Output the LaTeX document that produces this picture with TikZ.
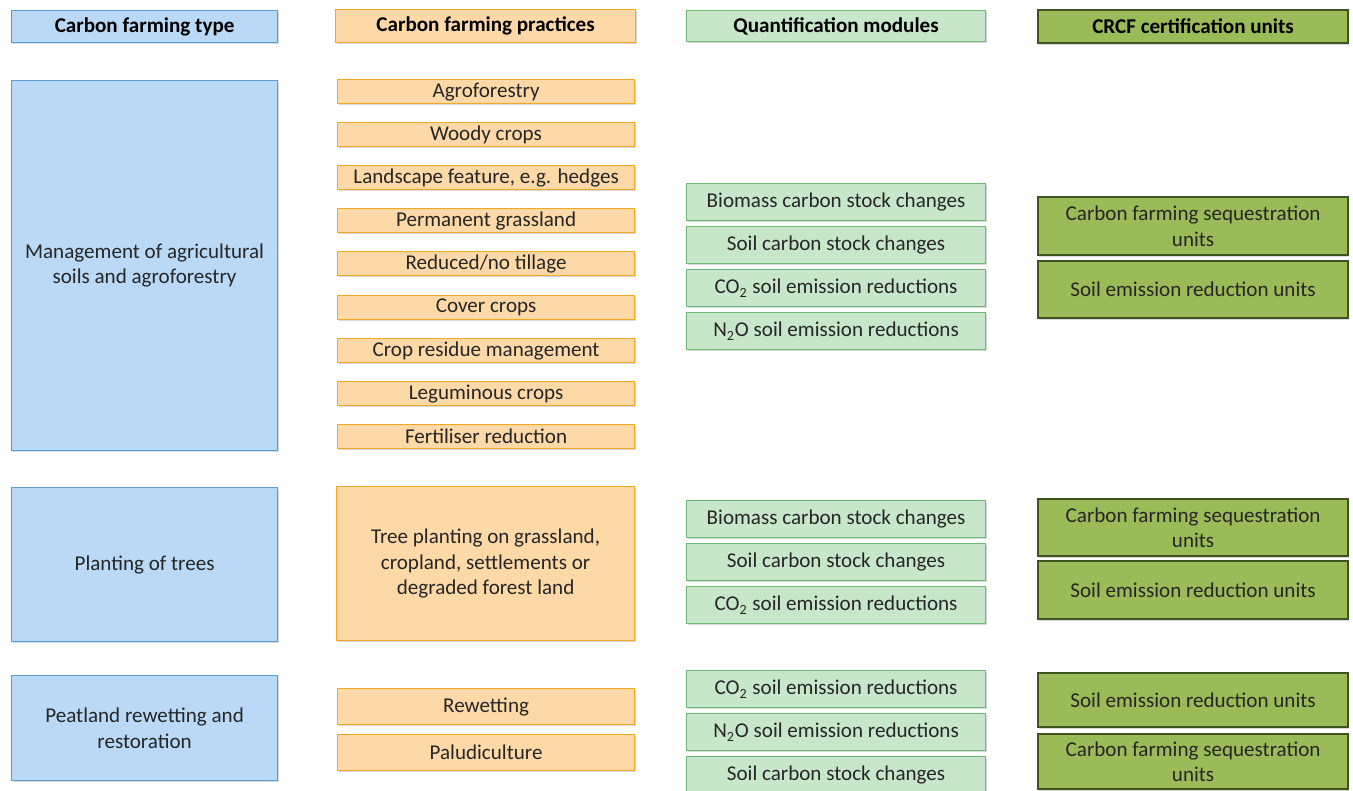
\documentclass[tikz,border=0pt]{standalone}
\usepackage{fontspec}
\setmainfont{Carlito}
\usetikzlibrary{shadows}
\definecolor{typefill}{HTML}{BAD9F6}
\definecolor{typeline}{HTML}{5B9BD5}
\definecolor{pracfill}{HTML}{FDD9A8}
\definecolor{pracline}{HTML}{F5A623}
\definecolor{modfill}{HTML}{C8E6CA}
\definecolor{modline}{HTML}{6DB872}
\definecolor{unitfill}{HTML}{9BBB59}
\definecolor{unitline}{HTML}{3F5320}
\tikzstyle{box} = [rectangle, anchor=north west, inner sep=0pt, text centered, align=center, text=black!85, font=\fontsize{12}{14.5}\selectfont, drop shadow={shadow xshift=0.6pt, shadow yshift=-0.8pt, opacity=0.3}]
\tikzstyle{typebox} = [box, fill=typefill, draw=typeline, line width=0.7pt, minimum width=5.32cm]
\tikzstyle{pracbox} = [box, fill=pracfill, draw=pracline, line width=0.7pt, minimum width=5.94cm]
\tikzstyle{modbox} = [box, fill=modfill, draw=modline, line width=0.7pt, minimum width=5.98cm, minimum height=0.74cm]
\tikzstyle{unitbox} = [box, fill=unitfill, draw=unitline, line width=1.3pt, minimum width=6.2cm]
\tikzstyle{head} = [text=black, font=\fontsize{12}{14.5}\selectfont\bfseries]

\begin{document}
\begin{tikzpicture}[x=0.02cm, y=-0.02cm]
        \useasboundingbox (0,0) rectangle (1353,791);
        
        % headers
        \node[typebox, head, minimum height=0.64cm](typehead) at (11,10) {Carbon farming type};
        \node[pracbox, head, minimum width=6cm, minimum height=0.66cm](prachead) at (335,9) {Carbon farming practices};
        \node[modbox, head, minimum height=0.62cm](modhead) at (686,10) {Quantification modules};
        \node[unitbox, head, minimum height=0.66cm](unithead) at (1037,9) {CRCF certification units};
        
        % carbon farming types
        \node[typebox, minimum height=7.4cm](soils) at (11,80) {Management of agricultural \\ soils and agroforestry};
        \node[typebox, minimum height=3.08cm](trees) at (11,487) {Planting of trees};
        \node[typebox, minimum height=2.1cm](peat) at (11,675) {Peatland rewetting and \\ restoration};
        
        % practices
        \node[pracbox, minimum height=0.48cm](agro) at (337,79) {Agroforestry};
        \node[pracbox, minimum height=0.48cm](woody) at (337,122) {Woody crops};
        \node[pracbox, minimum height=0.48cm](hedges) at (337,165) {Landscape feature, e.g. hedges};
        \node[pracbox, minimum height=0.48cm](grass) at (337,208) {Permanent grassland};
        \node[pracbox, minimum height=0.48cm](tillage) at (337,251) {Reduced/no tillage};
        \node[pracbox, minimum height=0.48cm](cover) at (337,295) {Cover crops};
        \node[pracbox, minimum height=0.48cm](residue) at (337,338) {Crop residue management};
        \node[pracbox, minimum height=0.48cm](legume) at (337,381) {Leguminous crops};
        \node[pracbox, minimum height=0.48cm](fert) at (337,424) {Fertiliser reduction};
        \node[pracbox, minimum width=5.96cm, minimum height=3.08cm](planting) at (336,486) {Tree planting on grassland, \\ cropland, settlements or \\ degraded forest land};
        \node[pracbox, minimum height=0.72cm](rewet) at (337,688) {Rewetting};
        \node[pracbox, minimum height=0.72cm](paludi) at (337,734) {Paludiculture};
        
        % quantification modules
        \node[modbox](bio1) at (686,183) {Biomass carbon stock changes};
        \node[modbox](soil1) at (686,226) {Soil carbon stock changes};
        \node[modbox](co1) at (686,269) {CO\textsubscript{2} soil emission reductions};
        \node[modbox](no1) at (686,312) {N\textsubscript{2}O soil emission reductions};
        \node[modbox](bio2) at (686,500) {Biomass carbon stock changes};
        \node[modbox](soil2) at (686,543) {Soil carbon stock changes};
        \node[modbox](co2) at (686,586) {CO\textsubscript{2} soil emission reductions};
        \node[modbox](co3) at (686,670) {CO\textsubscript{2} soil emission reductions};
        \node[modbox](no3) at (686,713) {N\textsubscript{2}O soil emission reductions};
        \node[modbox](soil3) at (686,756) {Soil carbon stock changes};
        
        % certification units
        \node[unitbox, minimum height=1.16cm](seq1) at (1037,196) {Carbon farming sequestration \\ units};
        \node[unitbox, minimum height=1.14cm](red1) at (1037,260) {Soil emission reduction units};
        \node[unitbox, minimum height=1.14cm](seq2) at (1037,498) {Carbon farming sequestration \\ units};
        \node[unitbox, minimum height=1.16cm](red2) at (1037,560) {Soil emission reduction units};
        \node[unitbox, minimum height=1.08cm](red3) at (1037,672) {Soil emission reduction units};
        \node[unitbox, minimum height=1.1cm](seq3) at (1037,733) {Carbon farming sequestration \\ units};
    \end{tikzpicture}
\end{document}
